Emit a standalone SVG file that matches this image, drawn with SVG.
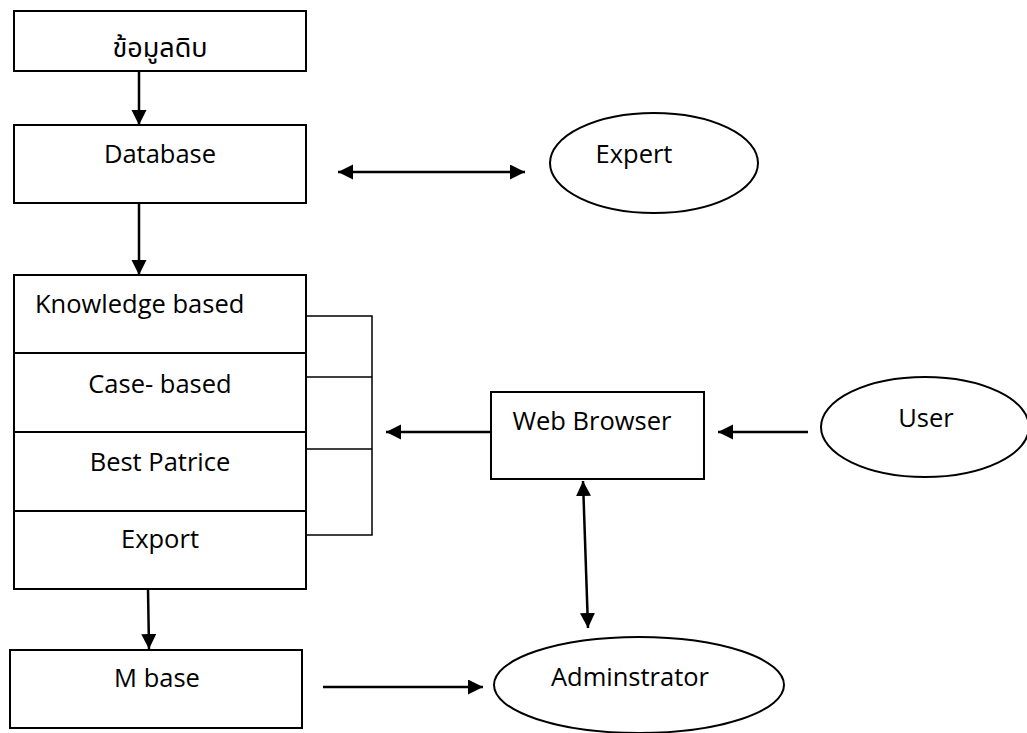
<svg xmlns="http://www.w3.org/2000/svg" width="1027" height="733" viewBox="0 0 1027 733">
<style>
.box{fill:#fff;stroke:#000;stroke-width:2}
.ell{fill:#fff;stroke:#000;stroke-width:2}
.div{stroke:#000;stroke-width:2}
.t{font-family:"Open Sans","Noto Sans Thai","Noto Sans","DejaVu Sans",sans-serif;font-size:25.5px;fill:#000;text-anchor:middle}
.c{fill:none;stroke:#000;stroke-width:2.5}
.br{fill:none;stroke:#000;stroke-width:1.5}
</style>
<defs>
<marker id="ah" markerUnits="userSpaceOnUse" markerWidth="16" markerHeight="16" refX="15" refY="7.5" orient="auto-start-reverse" viewBox="0 0 16 16">
<path d="M0,0 L15,7.5 L0,15 z" fill="#000"/>
</marker>
</defs>
<rect width="1027" height="733" fill="#fff"/>
<g id="raw">
<rect class="box" x="14" y="11" width="292" height="60"/>
<text class="t" x="160" y="57" style="font-size:27px">ข้อมูลดิบ</text>
</g>
<g id="database">
<rect class="box" x="14" y="125" width="292" height="78"/>
<text class="t" x="160" y="163">Database</text>
</g>
<g id="knowledge">
<rect class="box" x="14" y="275" width="292" height="314"/>
<line class="div" x1="14" y1="353" x2="306" y2="353"/>
<line class="div" x1="14" y1="432" x2="306" y2="432"/>
<line class="div" x1="14" y1="511" x2="306" y2="511"/>
<text class="t" x="35" y="313" style="text-anchor:start">Knowledge based</text>
<text class="t" x="160" y="393">Case- based</text>
<text class="t" x="160" y="471">Best Patrice</text>
<text class="t" x="160" y="548">Export</text>
</g>
<g id="mbase">
<rect class="box" x="10" y="650" width="292" height="78"/>
<text class="t" x="157" y="687">M base</text>
</g>
<g id="expert">
<ellipse class="ell" cx="654" cy="163" rx="104" ry="50"/>
<text class="t" x="634" y="163">Expert</text>
</g>
<g id="webbrowser">
<rect class="box" x="491" y="392" width="213" height="87"/>
<text class="t" x="592" y="430">Web Browser</text>
</g>
<g id="user">
<ellipse class="ell" cx="925" cy="427" rx="104" ry="50"/>
<text class="t" x="926" y="427">User</text>
</g>
<g id="admin">
<ellipse class="ell" cx="639" cy="685" rx="145" ry="48"/>
<text class="t" x="630" y="686">Adminstrator</text>
</g>
<g id="connectors">
<line class="c" x1="139" y1="71" x2="139" y2="125" marker-end="url(#ah)"/>
<line class="c" x1="139" y1="203" x2="139" y2="275" marker-end="url(#ah)"/>
<line class="c" x1="338" y1="172" x2="525" y2="172" marker-start="url(#ah)" marker-end="url(#ah)"/>
<polyline class="br" points="306,316 372,316 372,535 306,535"/>
<line class="br" x1="306" y1="377" x2="372" y2="377"/>
<line class="br" x1="306" y1="449" x2="372" y2="449"/>
<line class="c" x1="491" y1="432" x2="386" y2="432" marker-end="url(#ah)"/>
<line class="c" x1="808" y1="432" x2="718" y2="432" marker-end="url(#ah)"/>
<line class="c" x1="583" y1="481" x2="588" y2="628" marker-start="url(#ah)" marker-end="url(#ah)"/>
<line class="c" x1="148" y1="589" x2="149" y2="649" marker-end="url(#ah)"/>
<line class="c" x1="323" y1="687" x2="483" y2="687" marker-end="url(#ah)"/>
</g>
</svg>
